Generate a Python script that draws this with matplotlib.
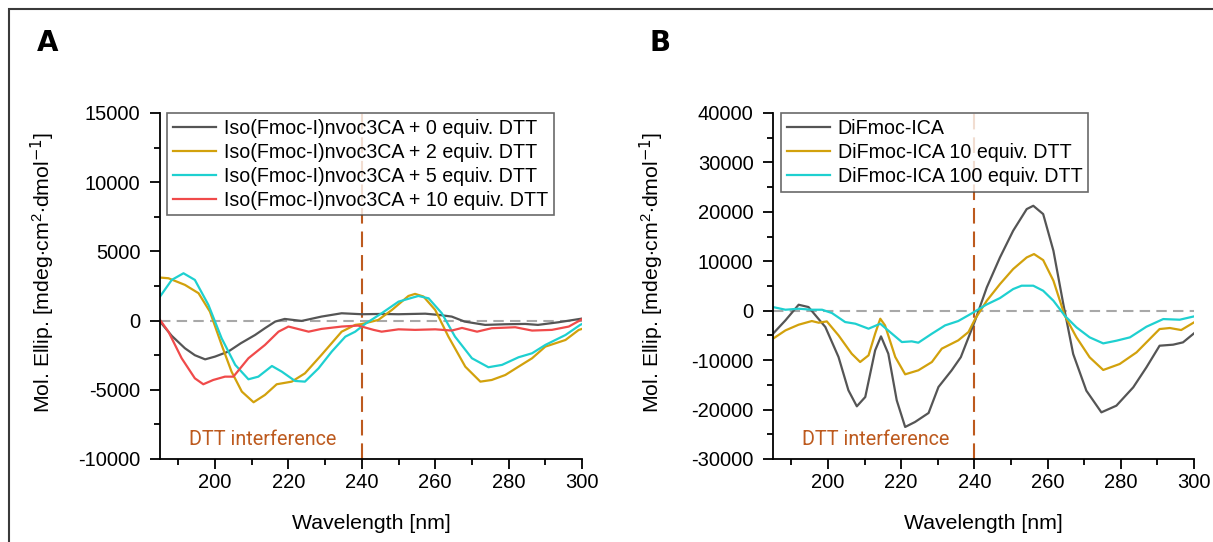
import matplotlib
matplotlib.use("Agg")
import matplotlib.pyplot as plt
from matplotlib.patches import Rectangle
from matplotlib.ticker import MultipleLocator

plt.rcParams['font.family'] = ['Liberation Sans', 'DejaVu Sans']
plt.rcParams['mathtext.fontset'] = 'custom'
plt.rcParams['mathtext.rm'] = 'Liberation Sans'
plt.rcParams['mathtext.it'] = 'Liberation Sans'
plt.rcParams['axes.unicode_minus'] = False

# ---- panel A: Iso(Fmoc-I)nvoc3CA titration ----
a0_wl = [185, 188.2, 191.8, 194.5, 197.3, 200, 203.6, 207, 210.9, 213.6, 216.4, 219, 223.6, 229, 234.5,
         240, 245, 250, 257.3, 261, 264.5, 268, 273.6, 279, 284.5, 288, 293.6, 300]
a0_val = [-70, -1100, -2000, -2500, -2800, -2600, -2240, -1640, -1040, -550, -70, 120, -24, 290, 530,
          460, 480, 460, 500, 410, 290, -70, -310, -265, -240, -310, -120, 145]

a2_wl = [185, 187.3, 191.8, 195.5, 198.6, 201.8, 204.5, 207.3, 210.5, 213.6, 216.8, 220.9, 224.5, 229,
         234.5, 238.2, 240, 244.5, 248.2, 252.7, 254.5, 256.8, 260, 263.6, 268.2, 272.3, 275.4, 279.1,
         282.7, 286.4, 290, 295.5, 299.1, 300]
a2_val = [3110, 3060, 2580, 1980, 650, -1760, -3690, -5130, -5900, -5370, -4600, -4410, -3810, -2480,
          -800, -310, -250, 50, 770, 1780, 1930, 1740, 770, -1160, -3330, -4410, -4290, -3930,
          -3330, -2720, -1880, -1400, -675, -600]

a5_wl = [185, 188.2, 191.4, 194.5, 198.2, 201.8, 205.5, 209.1, 211.8, 215.5, 218.2, 221.8, 224.5, 228.2,
         231.8, 235.5, 238.2, 240.9, 245.4, 250, 255.4, 258.2, 261.8, 265.4, 270, 274.5, 278.2, 282.7,
         286.4, 290, 295.5, 299.5, 300]
a5_val = [1735, 2940, 3420, 2940, 1130, -1280, -3200, -4240, -4050, -3280, -3690, -4360, -4410, -3450,
          -2240, -1160, -800, -240, 530, 1370, 1780, 1610, 530, -1160, -2720, -3370, -3200, -2650,
          -2360, -1760, -1040, -310, -250]

a10_wl = [185, 187.3, 190.9, 194.5, 196.8, 199.5, 202.7, 205, 209.1, 213.6, 217.3, 220, 225.5, 229, 234.5,
          239, 243.2, 245.4, 250, 254.5, 260, 264.5, 267.3, 271.4, 275.4, 281.8, 286.4, 291.8, 296.4, 300]
a10_val = [50, -800, -2720, -4170, -4600, -4290, -4050, -4050, -2720, -1760, -800, -430, -800, -600, -430,
           -360, -670, -800, -630, -670, -630, -720, -530, -800, -550, -480, -720, -670, -430, 100]

# ---- panel B: DiFmoc-ICA ----
b0_wl = [185, 188.4, 192, 194.7, 199.3, 202.9, 205.6, 207.9, 210.2, 212.9, 214.5, 216.5, 218.8, 221.1,
         223.8, 227.5, 230.2, 233.8, 236.3, 240.2, 243.4, 247, 250.6, 254.3, 256.1, 258.8, 261.6, 264.3,
         267, 270.6, 274.7, 278.8, 283.4, 287, 290.6, 294.3, 297, 300]
b0_val = [-4650, -1950, 1210, 740, -3300, -9370, -16100, -19340, -17460, -8020, -5190, -8700, -18130, -23520,
          -22510, -20690, -15430, -12060, -9400, -2000, 4720, 10780, 16180, 20560, 21230, 19550, 12130, 1350,
          -8760, -16180, -20560, -19210, -15500, -11460, -7080, -6870, -6400, -4580]

b10_wl = [185, 188.4, 192, 195.6, 197.5, 199.7, 202.9, 206.5, 208.8, 211.1, 212.9, 214.3, 215.6, 218.4,
          221.1, 224.7, 228.4, 231.1, 235.6, 238.4, 240.2, 243.4, 247, 250.6, 254.3, 256.3, 258.8, 261.6,
          264.7, 267.9, 271.5, 275.2, 279.7, 284.3, 287.9, 290.6, 293.4, 296.5, 300]
b10_val = [-5660, -3980, -2830, -2090, -2430, -2160, -4990, -8700, -10380, -9030, -4650, -1620, -2970, -9370,
           -12870, -12060, -10380, -7680, -6000, -4310, -1690, 2020, 5390, 8430, 10780, 11460, 10240, 6070,
           -1010, -5390, -9430, -11990, -10780, -8430, -5730, -3710, -3500, -3910, -2360]

b100_wl = [185, 188.4, 192, 195.6, 198.4, 201.1, 204.7, 207.5, 211.1, 214.3, 217.5, 220.2, 222.9, 224.7,
           228.4, 232, 235.6, 239.5, 243.2, 247, 250.6, 252.9, 256.1, 258.8, 261.6, 264.7, 267.9, 271.5,
           275.2, 278.8, 282.5, 287, 291.6, 296.1, 300]
b100_val = [740, 200, 400, 200, 200, -470, -2290, -2630, -3640, -2630, -4650, -6340, -6200, -6470,
            -4650, -2970, -2090, -450, 1200, 2560, 4380, 5060, 5060, 4040, 2020, -1010, -3370, -5390,
            -6610, -6070, -5390, -3240, -1690, -1820, -1150]

labels_a = ["Iso(Fmoc-I)nvoc3CA + 0 equiv. DTT", "Iso(Fmoc-I)nvoc3CA + 2 equiv. DTT",
            "Iso(Fmoc-I)nvoc3CA + 5 equiv. DTT", "Iso(Fmoc-I)nvoc3CA + 10 equiv. DTT"]
labels_b = ["DiFmoc-ICA", "DiFmoc-ICA 10 equiv. DTT", "DiFmoc-ICA 100 equiv. DTT"]

c_gray, c_gold, c_cyan, c_red = '#555555', '#d2a10c', '#1ed0d0', '#f04a4a'
c_dtt = '#bd5a1e'

fig = plt.figure(figsize=(12.13, 5.42), dpi=100)

# thin frame around the figure (open to the right/bottom)
fig.patches.append(Rectangle((8.5 / 1213, -0.1), 1.2, 1 - 8.5 / 542 + 0.1, transform=fig.transFigure,
                             fill=False, edgecolor='#3a3a3a', linewidth=1.5))

axA = fig.add_axes([160 / 1213, 83 / 542, 422 / 1213, 346 / 542])
axB = fig.add_axes([773 / 1213, 83 / 542, 421 / 1213, 346 / 542])


def style_axis(ax, ymin, ymax, ymajor):
    ax.set_xlim(185, 300)
    ax.set_ylim(ymin, ymax)
    ax.xaxis.set_major_locator(MultipleLocator(20))
    ax.xaxis.set_minor_locator(MultipleLocator(10))
    ax.yaxis.set_major_locator(MultipleLocator(ymajor))
    ax.yaxis.set_minor_locator(MultipleLocator(ymajor / 2))
    for s in ['top', 'right']:
        ax.spines[s].set_visible(False)
    for s in ['left', 'bottom']:
        ax.spines[s].set_linewidth(1.3)
    ax.tick_params(which='major', length=7, width=1.3, labelsize=14.5)
    ax.tick_params(axis='y', which='major', pad=7)
    ax.tick_params(axis='x', which='major', pad=3)
    ax.tick_params(which='minor', length=4.3, width=1.3)
    ax.axhline(0, color='#a8a8a8', lw=1.5, dashes=(5, 3), zorder=1)
    ax.axvline(240, color=c_dtt, lw=1.5, dashes=(7.5, 3.8), zorder=1)
    ax.text(193, ymin + (ymax - ymin) * 0.055, "DTT interference", color=c_dtt, fontsize=14.2,
            family=['Roboto', 'DejaVu Sans'], va='center')
    ax.set_xlabel("Wavelength [nm]", fontsize=15.3, labelpad=16)
    ax.set_ylabel(r"Mol. Ellip. [mdeg$\cdot$cm$^{2}$$\cdot$dmol$^{\mathsf{-1}}$]", fontsize=15.3)
    ax.yaxis.set_label_coords(-0.245, 0.54)


style_axis(axA, -10000, 15000, 5000)
style_axis(axB, -30000, 40000, 10000)
axB.yaxis.set_label_coords(-0.255, 0.54)

axA.plot(a0_wl, a0_val, color=c_gray, lw=1.6, label=labels_a[0])
axA.plot(a2_wl, a2_val, color=c_gold, lw=1.6, label=labels_a[1])
axA.plot(a5_wl, a5_val, color=c_cyan, lw=1.6, label=labels_a[2])
axA.plot(a10_wl, a10_val, color=c_red, lw=1.6, label=labels_a[3])

axB.plot(b0_wl, b0_val, color=c_gray, lw=1.6, label=labels_b[0])
axB.plot(b10_wl, b10_val, color=c_gold, lw=1.6, label=labels_b[1])
axB.plot(b100_wl, b100_val, color=c_cyan, lw=1.6, label=labels_b[2])

for ax, dx in [(axA, 7 / 422), (axB, 8 / 421)]:
    leg = ax.legend(loc='upper left', bbox_to_anchor=(dx, 1.0), borderaxespad=0, fontsize=14.1,
                    frameon=True, fancybox=False, handlelength=2.2, handletextpad=0.4,
                    labelspacing=0.25, borderpad=0.3)
    leg.get_frame().set_edgecolor('#444444')
    leg.get_frame().set_linewidth(1.2)
    leg.set_zorder(5)

# panel letters
for x, t in [(37, 'A'), (649, 'B')]:
    fig.text(x / 1213, 1 - 43 / 542, t, fontsize=20, fontweight='bold', va='center', ha='left',
             family='DejaVu Sans')

fig.savefig("out.png", dpi=100)
